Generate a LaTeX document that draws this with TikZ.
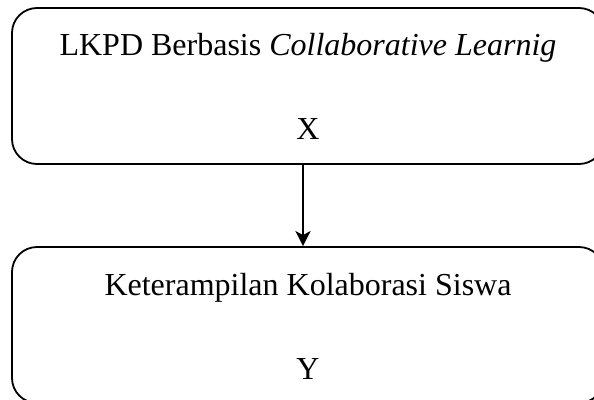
\documentclass[tikz,border=0pt]{standalone}
\usepackage{fontspec}
\setmainfont{Liberation Serif}
\usepackage{tikz}
\usetikzlibrary{positioning,arrows.meta}

\begin{document}
\begin{tikzpicture}[x=1pt,y=1pt]
\tikzstyle{box}=[rectangle, rounded corners=25pt, draw=black, line width=1.8pt, minimum width=592pt, minimum height=156pt, inner sep=0pt]
\tikzstyle{txt}=[anchor=base, inner sep=0pt, font=\fontsize{32}{38}\selectfont]
\tikzstyle{connect}=[-{Stealth[length=15pt,width=15pt,inset=4pt]}, line width=2.6pt]
\useasboundingbox (0,0) rectangle (594,-399);
	\node[box] (lkpd) at (308,-86) {};
	\node[box] (siswa) at (308,-325) {};

	\node[txt] (lkpd_t) at (308,-55) {LKPD Berbasis \textit{Collaborative Learnig}};
	\node[txt] (x) at (308,-139) {X};
	\node[txt] (siswa_t) at (308,-295) {Keterampilan Kolaborasi Siswa};
	\node[txt] (y) at (308,-379) {Y};

	\draw[connect] ([xshift=-5pt]lkpd.south) -- ([xshift=-5pt]siswa.north);
\end{tikzpicture}
\end{document}
